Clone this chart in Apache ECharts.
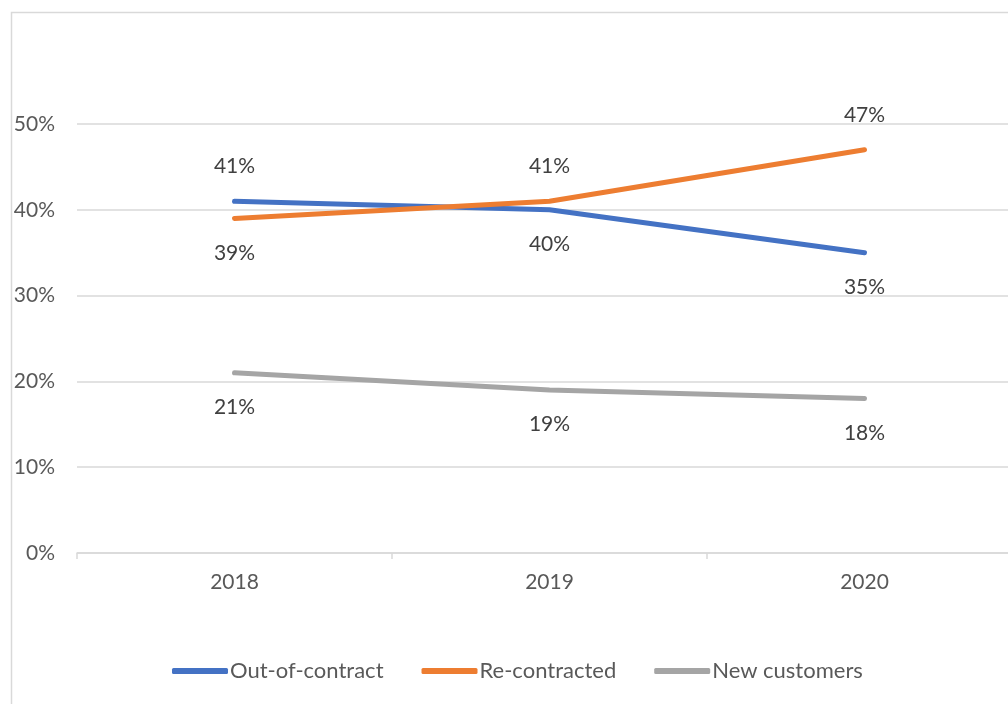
<!DOCTYPE html>
<html>
<head>
<meta charset="utf-8">
<script src="https://cdn.jsdelivr.net/npm/echarts@6/dist/echarts.min.js"></script>
<style>
html,body{margin:0;padding:0;background:#fff;}
#c{width:1008px;height:704px;}
</style>
</head>
<body>
<div id="c"></div>
<script>
var categories = ['2018', '2019', '2020'];
var outOfContract = [41, 40, 35];
var reContracted = [39, 41, 47];
var newCustomers = [21, 19, 18];
var outPos = ['top', 'bottom', 'bottom'];
var rePos = ['bottom', 'top', 'top'];
var newPos = ['bottom', 'bottom', 'bottom'];

var FONT = 'Lato';
var FS = 21;
function mk(vals, pos) {
  return vals.map(function (v, i) {
    return { value: v, label: { position: pos[i] } };
  });
}
function lbl() {
  return {
    show: true, formatter: '{c}%', distance: 23,
    color: '#404040', fontSize: FS, fontFamily: FONT
  };
}
function ser(name, vals, pos, color) {
  return {
    name: name, type: 'line', data: mk(vals, pos),
    symbol: 'circle', symbolSize: 2, showSymbol: true,
    lineStyle: { color: color, width: 5, cap: 'round' },
    itemStyle: { color: color },
    label: lbl()
  };
}
var chart = echarts.init(document.getElementById('c'));
chart.setOption({
  animation: false,
  backgroundColor: '#fff',
  graphic: [{
    type: 'rect', left: 9, top: 10,
    shape: { width: 1200, height: 900 },
    style: { fill: 'none', stroke: '#d9d9d9', lineWidth: 1.5 },
    silent: true
  }],
  grid: { left: 77, top: 124, right: -14, bottom: 151, containLabel: false, outerBoundsMode: 'none' },
  xAxis: {
    type: 'category', data: categories, boundaryGap: true,
    axisLine: { lineStyle: { color: '#d9d9d9', width: 1.5 } },
    axisTick: { show: true, length: 6, lineStyle: { color: '#d9d9d9', width: 1.5 } },
    axisLabel: { color: '#595959', fontSize: FS, fontFamily: FONT, margin: 19 }
  },
  yAxis: {
    type: 'value', min: 0, max: 50, interval: 10,
    axisLine: { show: false }, axisTick: { show: false },
    axisLabel: { formatter: '{value}%', color: '#595959', fontSize: FS, fontFamily: FONT, margin: 22 },
    splitLine: { lineStyle: { color: '#d9d9d9', width: 1.5 } }
  },
  legend: {
    bottom: 17, left: 167, itemGap: 38, itemWidth: 56, itemHeight: 6,
    icon: 'roundRect',
    textStyle: { color: '#595959', fontSize: 22, fontFamily: FONT, padding: [0, 0, 0, -3] },
    data: ['Out-of-contract', 'Re-contracted', 'New customers']
  },
  series: [
    ser('Out-of-contract', outOfContract, outPos, '#4472C4'),
    ser('Re-contracted', reContracted, rePos, '#ED7D31'),
    ser('New customers', newCustomers, newPos, '#A5A5A5')
  ]
});
</script>
</body>
</html>
